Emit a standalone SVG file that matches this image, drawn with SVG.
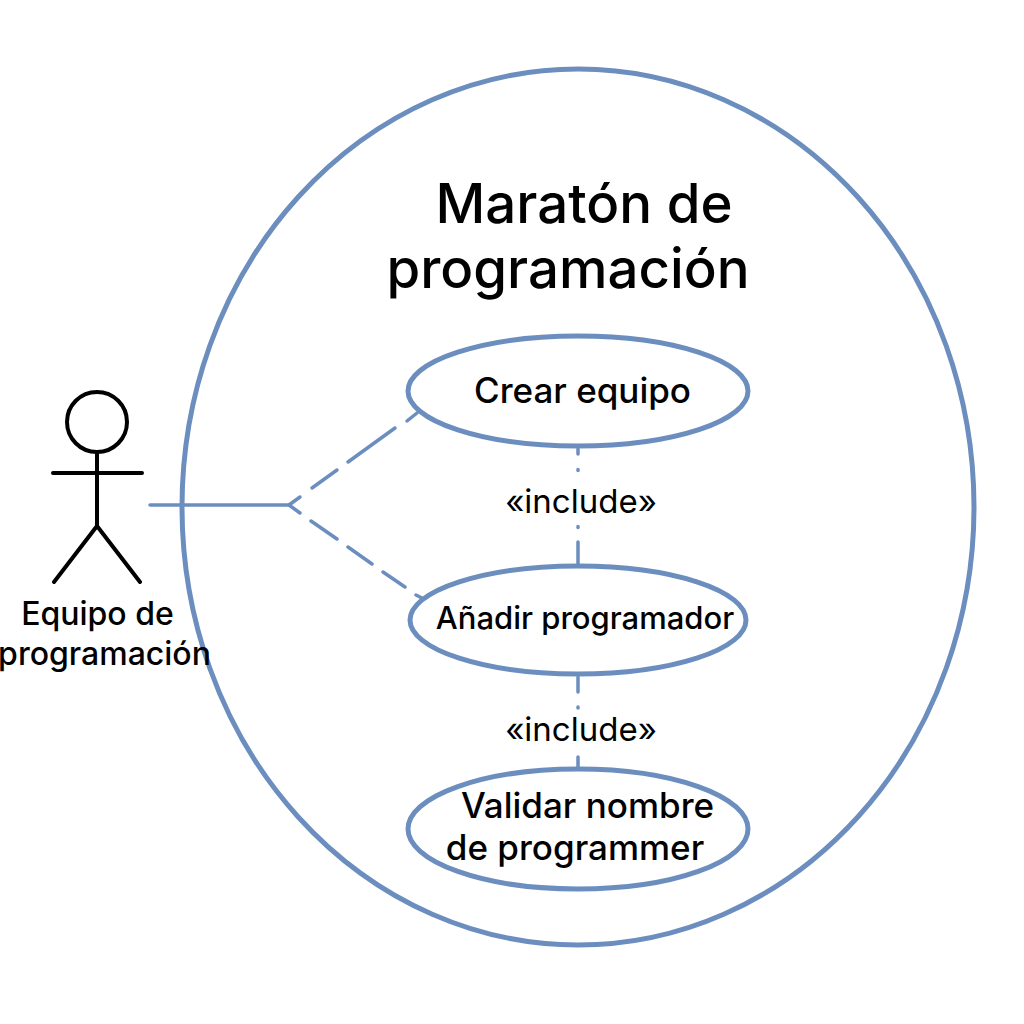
<svg xmlns="http://www.w3.org/2000/svg" width="1024" height="1024" viewBox="0 0 1024 1024">
<style>
.b{fill:none;stroke:#6c8ebf;stroke-width:5}
.c{fill:none;stroke:#6c8ebf;stroke-width:3.5;stroke-linecap:round}
.a{fill:none;stroke:#000;stroke-width:4;stroke-linecap:round}
text{font-family:Inter,"Liberation Sans",sans-serif;fill:#000;text-anchor:middle}
.u{font-size:35px}.s{font-size:31px}.i{font-size:33px}.e{font-size:32px}.t{font-size:54.6px;font-weight:500}
.m{font-weight:500}
</style>
<rect width="1024" height="1024" fill="#fff"/>
<g id="system"><ellipse class="b" cx="578" cy="507" rx="396" ry="438"/>
<text class="t" x="584" y="223">Maratón de</text><text class="t" x="568" y="288">programación</text></g>
<g id="connectors">
<path class="c" d="M150 505H289"/>
<path class="c" d="M289 505L300 497M312 488L337 470M348 462L395 428M407 421L417 413"/>
<path class="c" d="M289 505L300 513M311 521L337 539M348 547L372 564M383 572L405 587M416 595L422 598"/>
<path class="c" d="M578 449V454M578 469.5V470.5M578 526.5V527.5M578 542V564"/>
<path class="c" d="M578 677V692M578 707V708M578 757V767"/>
</g>
<g id="actor">
<circle class="a" cx="97" cy="422" r="30"/>
<path class="a" d="M97 452V526M53 473H142M97 526L54 582M97 526L140 582"/>
<text class="e m" x="97.5" y="625">Equipo de</text>
<text class="e m" x="104.5" y="665">programación</text>
</g>
<g id="uc1"><ellipse class="b" cx="578" cy="391" rx="170" ry="55"/><text class="u m" x="582.5" y="403">Crear equipo</text></g>
<g id="uc2"><ellipse class="b" cx="578" cy="620" rx="168" ry="54"/><text class="s m" x="585" y="629">Añadir programador</text></g>
<g id="uc3"><ellipse class="b" cx="578" cy="829" rx="170" ry="60"/><text class="u m" x="587.5" y="818">Validar nombre</text><text class="u m" x="575" y="860">de programmer</text></g>
<g id="labels"><text class="i" x="581" y="513">«include»</text><text class="i" x="581" y="741">«include»</text></g>
</svg>
